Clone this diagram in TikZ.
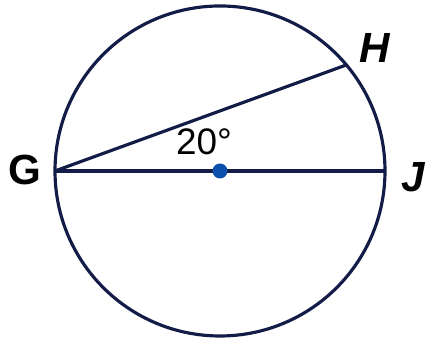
\documentclass[tikz,border=0pt]{standalone}
\usepackage{fontspec}
\setmainfont{Liberation Sans}
\usetikzlibrary{calc}
\definecolor{rim}{RGB}{18,28,70}
\definecolor{dotblue}{RGB}{10,80,170}

\begin{document}
\begin{tikzpicture}[
            rimline/.style={color=rim, line width=0.9pt},
            vertexlabel/.style={font=\fontsize{12}{12}\selectfont\bfseries\itshape, inner sep=0pt},
            anglelabel/.style={font=\fontsize{10.5}{10.5}\selectfont, inner sep=0pt}
        ]
            \useasboundingbox (0, 0) rectangle (4.27, 3.39);

            % circle and points
            \coordinate (O) at (2.20, 1.68);
            \coordinate (G) at ($(O)+(180:1.65)$);
            \coordinate (J) at ($(O)+(0:1.65)$);
            \coordinate (H) at ($(O)+(40:1.65)$);
            \draw[rimline] (O) circle (1.65);

            % chords
            \draw[rimline] (G) -- (J);
            \draw[rimline] (G) -- (H);

            % centre
            \fill[dotblue] (O) circle (0.075);

            % labels
            \node[vertexlabel, font=\fontsize{12}{12}\selectfont\bfseries] (labG) at (0.25, 1.69) {G};
            \node[vertexlabel] (labH) at (3.75, 2.91) {H};
            \node[vertexlabel] (labJ) at (4.13, 1.62) {J};
            \node[anglelabel] (ang) at (2.04, 1.97) {20\textdegree};

        \end{tikzpicture}
\end{document}
